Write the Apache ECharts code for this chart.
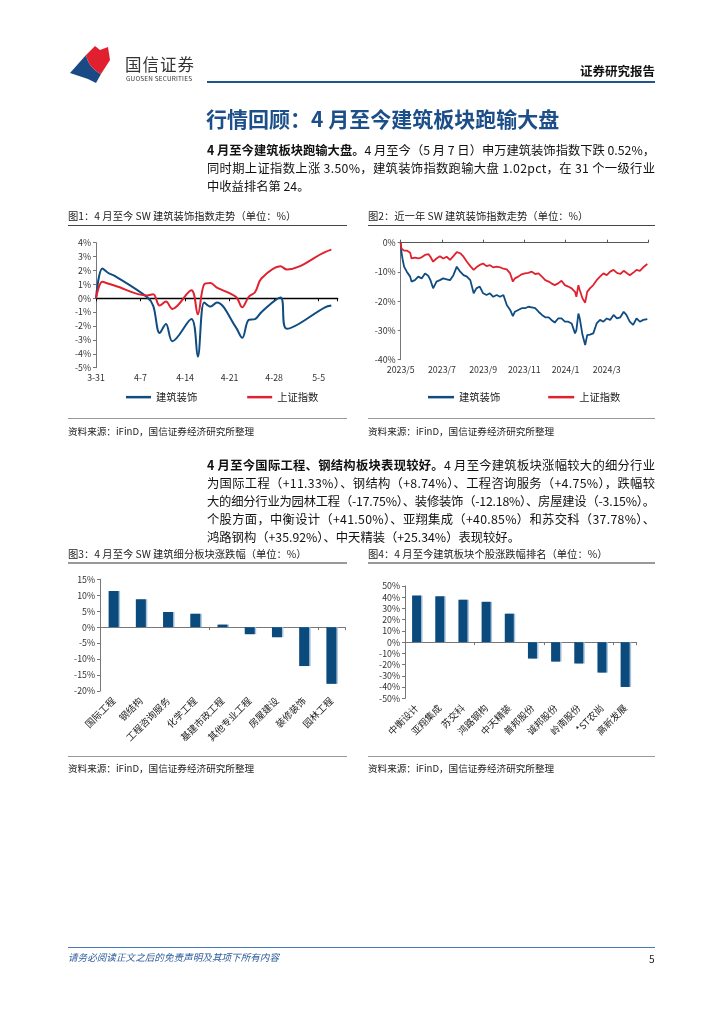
<!DOCTYPE html>
<html><head><meta charset="utf-8">
<script src="https://cdn.jsdelivr.net/npm/echarts@6/dist/echarts.min.js"></script>
<style>
html,body{margin:0;padding:0;background:#fff;}
body{width:724px;height:1024px;position:relative;overflow:hidden;font-family:"Noto Sans CJK SC","Noto Sans",sans-serif;color:#111;}
#c{position:absolute;left:0;top:0;width:724px;height:1024px;}
.t{position:absolute;white-space:nowrap;}
.ln{position:absolute;left:207px;font-size:12.3px;line-height:18px;white-space:nowrap;color:#111;}
.rule{position:absolute;height:0;}
</style></head>
<body>
<div id="c"></div>
<svg style="position:absolute;left:0;top:0" width="200" height="100">
  <path d="M70,73 L86,55 C88,64 93,70 101,74 L96,83 L88,79 Z" fill="#1a4a86"/>
  <path d="M86,55 L95,46 L100,50 L108,47 L110,60 L101,74 C93,70 88,64 86,55 Z" fill="#e0202e"/>
</svg>
<div class="t" style="left:125px;top:52px;font-size:16.5px;letter-spacing:1px;color:#333;">国信证券</div>
<div class="t" style="left:126px;top:74px;font-size:6.4px;color:#333;letter-spacing:0.2px;">GUOSEN SECURITIES</div>
<div class="t" style="left:580px;top:61px;font-size:12.5px;font-weight:bold;color:#111;">证券研究报告</div>
<div class="rule" style="left:207px;top:81px;width:448px;border-top:2.5px solid #1f5591;"></div>

<div class="t" style="left:206px;top:103px;font-size:21px;font-weight:bold;color:#1c4f8a;">行情回顾：4 月至今建筑板块跑输大盘</div>

<div class="ln j" style="top:141px;"><b>4 月至今建筑板块跑输大盘。</b>4 月至今（5 月 7 日）申万建筑装饰指数下跌 0.52%，</div>
<div class="ln j" style="top:159px;">同时期上证指数上涨 3.50%，建筑装饰指数跑输大盘 1.02pct，在 31 个一级行业</div>
<div class="ln" style="top:177px;">中收益排名第 24。</div>

<div class="t" style="left:68px;top:208px;font-size:10.3px;color:#222;">图1：4 月至今 SW 建筑装饰指数走势（单位：%）</div>
<div class="t" style="left:368px;top:208px;font-size:10.3px;color:#222;">图2：近一年 SW 建筑装饰指数走势（单位：%）</div>
<div class="rule" style="left:68px;top:225px;width:279px;border-top:1.5px solid #444;"></div>
<div class="rule" style="left:368px;top:225px;width:287px;border-top:1.5px solid #444;"></div>
<div class="rule" style="left:68px;top:418px;width:279px;border-top:1.5px solid #999;"></div>
<div class="rule" style="left:368px;top:418px;width:287px;border-top:1.5px solid #999;"></div>
<div class="t" style="left:68px;top:424px;font-size:9.6px;color:#222;">资料来源：iFinD，国信证券经济研究所整理</div>
<div class="t" style="left:368px;top:424px;font-size:9.6px;color:#222;">资料来源：iFinD，国信证券经济研究所整理</div>

<div class="ln j" style="top:456px;"><b>4 月至今国际工程、钢结构板块表现较好。</b>4 月至今建筑板块涨幅较大的细分行业</div>
<div class="ln j" style="top:474px;">为国际工程（+11.33%）、钢结构（+8.74%）、工程咨询服务（+4.75%），跌幅较</div>
<div class="ln j" style="top:492px;">大的细分行业为园林工程（-17.75%）、装修装饰（-12.18%）、房屋建设（-3.15%）。</div>
<div class="ln j" style="top:510px;">个股方面，中衡设计（+41.50%）、亚翔集成（+40.85%）和苏交科（37.78%）、</div>
<div class="ln" style="top:528px;">鸿路钢构（+35.92%）、中天精装（+25.34%）表现较好。</div>

<div class="t" style="left:68px;top:546px;font-size:10.3px;color:#222;">图3：4 月至今 SW 建筑细分板块涨跌幅（单位：%）</div>
<div class="t" style="left:368px;top:546px;font-size:10.3px;color:#222;">图4：4 月至今建筑板块个股涨跌幅排名（单位：%）</div>
<div class="rule" style="left:68px;top:562px;width:279px;border-top:2px solid #999;"></div>
<div class="rule" style="left:368px;top:562px;width:287px;border-top:2px solid #999;"></div>
<div class="rule" style="left:68px;top:756px;width:279px;border-top:1.5px solid #999;"></div>
<div class="rule" style="left:368px;top:756px;width:287px;border-top:1.5px solid #999;"></div>
<div class="t" style="left:68px;top:761px;font-size:9.6px;color:#222;">资料来源：iFinD，国信证券经济研究所整理</div>
<div class="t" style="left:368px;top:761px;font-size:9.6px;color:#222;">资料来源：iFinD，国信证券经济研究所整理</div>

<div class="rule" style="left:68px;top:947px;width:587px;border-top:1px solid #4a78b0;"></div>
<div class="t" style="left:68px;top:950px;font-size:9.6px;font-style:italic;color:#2f5d9a;">请务必阅读正文之后的免责声明及其项下所有内容</div>
<div class="t" style="left:649px;top:951px;font-size:10px;color:#222;">5</div>

<script>
// ---------- Chart 1: 4月至今 (day offsets from 3-31) ----------
const c1Day   = [0, 1, 2, 3, 8, 9, 10, 11, 12, 15, 16, 17, 18, 19, 22, 23, 24, 25, 26, 29, 30, 36, 37];
const c1Build = [0, 2.15, 1.8, 1.6, 0.1, -0.55, -2.5, -1.85, -3.1, -1.5, -4.2, -0.3, -0.6, -0.3, -2.1, -2.85, -1.55, -1.5, -1.0, 0.05, -2.2, -0.65, -0.52];
const c1SH    = [0, 1.18, 1.04, 0.9, 0.2, 0.28, -0.53, -0.24, -0.77, 0.58, -1.15, 1.0, 1.1, 0.77, 0.1, -0.65, 0.1, 0.43, 1.42, 2.3, 2.07, 3.32, 3.5];
const c1Ticks = ['3-31', '4-7', '4-14', '4-21', '4-28', '5-5'];

// ---------- Chart 2: 近一年 (day offsets from 2023-05-08) ----------
const c2Day = [0,1,3,5,9,14,16,21,26,31,36,41,44,48,53,58,63,68,73,78,83,88,93,98,103,108,112,117,122,127,132,137,142,147,152,157,162,166,169,174,179,184,189,194,199,204,209,214,219,223,228,233,238,243,248,253,258,260,263,265,269,273,276,280,285,290,295,300,305,310,315,320,325,330,334,339,344,349,354,359,365];
const c2SH = [0,-2.0,-2.5,-2.7,-2.7,-3.4,-5.4,-5.1,-5.4,-5.0,-4.2,-3.9,-4.8,-6.5,-5.4,-4.6,-5.4,-4.8,-5.9,-4.6,-3.2,-3.6,-4.8,-6.5,-8.0,-9.3,-8.4,-7.6,-7.1,-8.0,-7.7,-8.4,-8.2,-8.4,-8.9,-9.1,-10.5,-13.3,-12.2,-11.6,-10.8,-10.5,-10.3,-9.9,-10.7,-10.5,-11.6,-12.8,-13.3,-13.9,-14.5,-13.9,-13.0,-14.5,-15.0,-15.6,-16.8,-18.5,-14.5,-16.2,-19.0,-20.5,-16.8,-15.6,-14.5,-12.8,-11.6,-10.5,-11.1,-9.9,-9.3,-10.3,-10.7,-9.6,-10.3,-11.1,-10.3,-9.3,-9.6,-8.4,-7.3];
const c2Build = [0,-3.1,-5.9,-8.2,-9.9,-11.6,-13.3,-12.8,-11.6,-12.2,-10.5,-11.4,-12.8,-15.6,-13.3,-12.8,-12.2,-12.5,-12.8,-11.1,-8.2,-9.9,-11.1,-11.6,-12.8,-17.3,-15.6,-15.0,-17.3,-17.9,-17.3,-18.5,-17.9,-18.5,-17.9,-21.3,-23.0,-25.1,-23.6,-23.0,-22.4,-22.4,-21.9,-22.1,-22.4,-23.6,-24.7,-25.5,-25.5,-26.4,-27.3,-25.9,-25.9,-27.0,-27.0,-27.6,-31.0,-29.9,-24.2,-25.9,-31.5,-35.0,-31.6,-31.4,-31.0,-27.6,-26.4,-27.0,-25.9,-26.4,-24.7,-25.9,-25.5,-23.6,-24.7,-27.0,-28.1,-25.9,-27.0,-26.4,-26.1];
const c2Ticks = ['2023/5', '2023/7', '2023/9', '2023/11', '2024/1', '2024/3'];

// ---------- Chart 3 ----------
const c3Names = ['国际工程', '钢结构', '工程咨询服务', '化学工程', '基建市政工程', '其他专业工程', '房屋建设', '装修装饰', '园林工程'];
const c3Vals  = [11.33, 8.74, 4.75, 4.2, 0.8, -2.2, -3.15, -12.18, -17.75];

// ---------- Chart 4 ----------
const c4Names = ['中衡设计', '亚翔集成', '苏交科', '鸿路钢构', '中天精装', '普邦股份', '诚邦股份', '岭南股份', '*ST农尚', '高新发展'];
const c4Vals  = [41.50, 40.85, 37.78, 35.92, 25.34, -14.6, -17.3, -19.0, -27.1, -39.9];

const BLUE = '#0f4c81', RED = '#e0212f', FONT = '"Noto Sans CJK SC","Noto Sans",sans-serif';

// justify text lines to column width
document.querySelectorAll('.ln.j').forEach(el => {
  const w = el.getBoundingClientRect().width;
  const n = el.textContent.length;
  el.style.letterSpacing = ((448 - w) / (n - 1)) + 'px';
});

const pair = (xs, ys) => xs.map((x, i) => [x, ys[i]]);
const yLab = {fontSize: 8.8, color: '#333', fontFamily: FONT, formatter: '{value}%', margin: 5};
const yAx = (grid, min, max, interval) => ({
  type: 'value', gridIndex: grid, min, max, interval,
  axisLine: {show: true, lineStyle: {color: '#777', width: 1}},
  axisTick: {show: true, length: 3, lineStyle: {color: '#777'}},
  splitLine: {show: false}, axisLabel: yLab
});

const chart = echarts.init(document.getElementById('c'), null, {renderer: 'canvas'});
chart.setOption({
  animation: false,
  textStyle: {fontFamily: FONT},
  grid: [
    {left: 96, top: 242.7, width: 241.7, height: 125},
    {left: 400.7, top: 242.7, width: 247.3, height: 117},
    {left: 100, top: 579.3, width: 245, height: 111.7},
    {left: 405, top: 586, width: 231.7, height: 112.3}
  ],
  xAxis: [
    {type: 'value', gridIndex: 0, min: 0, max: 38, interval: 7, position: 'bottom',
     axisLine: {show: false, onZero: false}, axisTick: {show: false}, splitLine: {show: false},
     axisLabel: {fontSize: 8.8, color: '#333', margin: 6, formatter: v => (v % 7 === 0 ? (c1Ticks[v / 7] || '') : '')}},
    {type: 'value', gridIndex: 0, min: 0, max: 38, interval: 7, position: 'bottom',
     axisLine: {show: true, onZero: true, lineStyle: {color: '#000', width: 1.3}},
     axisTick: {show: true, length: 3, lineStyle: {color: '#000'}}, axisLabel: {show: false}, splitLine: {show: false}},
    {type: 'value', gridIndex: 1, min: 0, max: 366, interval: 61, position: 'bottom',
     axisLine: {show: false, onZero: false}, axisTick: {show: false}, splitLine: {show: false},
     axisLabel: {fontSize: 8.8, color: '#333', margin: 6, formatter: v => (v % 61 === 0 ? (c2Ticks[v / 61] || '') : '')}},
    {type: 'value', gridIndex: 1, min: 0, max: 366, interval: 61, position: 'top',
     axisLine: {show: true, onZero: false, lineStyle: {color: '#555', width: 1}},
     axisTick: {show: true, length: 3, lineStyle: {color: '#555'}}, axisLabel: {show: false}, splitLine: {show: false}},
    {type: 'category', gridIndex: 2, data: c3Names, position: 'bottom',
     axisLine: {show: false, onZero: false}, axisTick: {show: false},
     axisLabel: {interval: 0, rotate: 45, fontSize: 9.5, color: '#222', margin: 8}},
    {type: 'category', gridIndex: 2, data: c3Names, position: 'bottom',
     axisLine: {show: true, onZero: true, lineStyle: {color: '#777'}},
     axisTick: {show: true, length: 3, lineStyle: {color: '#777'}}, axisLabel: {show: false}},
    {type: 'category', gridIndex: 3, data: c4Names, position: 'bottom',
     axisLine: {show: false, onZero: false}, axisTick: {show: false},
     axisLabel: {interval: 0, rotate: 45, fontSize: 9.5, color: '#222', margin: 8}},
    {type: 'category', gridIndex: 3, data: c4Names, position: 'bottom',
     axisLine: {show: true, onZero: true, lineStyle: {color: '#777'}},
     axisTick: {show: true, length: 3, lineStyle: {color: '#777'}}, axisLabel: {show: false}}
  ],
  yAxis: [yAx(0, -5, 4, 1), yAx(1, -40, 0, 10), yAx(2, -20, 15, 5), yAx(3, -50, 50, 10)],
  legend: [
    {left: 121, top: 387, itemWidth: 25, itemHeight: 2.5, icon: 'rect', itemGap: 50,
     textStyle: {fontSize: 10.3, color: '#222'}, data: ['建筑装饰', '上证指数']},
    {left: 423, top: 387, itemWidth: 26, itemHeight: 2.5, icon: 'rect', itemGap: 48,
     textStyle: {fontSize: 10.3, color: '#222'}, data: ['建筑装饰', '上证指数']}
  ],
  series: [
    {name: '建筑装饰', type: 'line', xAxisIndex: 0, yAxisIndex: 0, data: pair(c1Day, c1Build),
     smooth: 0.35, showSymbol: false, lineStyle: {color: BLUE, width: 2}, itemStyle: {color: BLUE}},
    {name: '上证指数', type: 'line', xAxisIndex: 0, yAxisIndex: 0, data: pair(c1Day, c1SH),
     smooth: 0.35, showSymbol: false, lineStyle: {color: RED, width: 2}, itemStyle: {color: RED}},
    {name: '建筑装饰', type: 'line', xAxisIndex: 2, yAxisIndex: 1, data: pair(c2Day, c2Build),
     showSymbol: false, lineStyle: {color: BLUE, width: 1.8}, itemStyle: {color: BLUE}},
    {name: '上证指数', type: 'line', xAxisIndex: 2, yAxisIndex: 1, data: pair(c2Day, c2SH),
     showSymbol: false, lineStyle: {color: RED, width: 1.8}, itemStyle: {color: RED}},
    {type: 'bar', xAxisIndex: 4, yAxisIndex: 2, data: c3Vals, barWidth: 10,
     itemStyle: {color: '#0b4a7d', shadowColor: '#a9c3dc', shadowOffsetX: 1.5, shadowBlur: 0}},
    {type: 'bar', xAxisIndex: 6, yAxisIndex: 3, data: c4Vals, barWidth: 9,
     itemStyle: {color: '#0b4a7d', shadowColor: '#a9c3dc', shadowOffsetX: 1.5, shadowBlur: 0}}
  ]
});
</script>
</body></html>
